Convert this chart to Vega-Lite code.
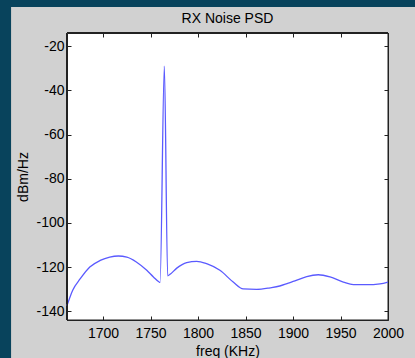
{
  "$schema": "https://vega.github.io/schema/vega-lite/v6.json",
  "width": 321,
  "height": 287,
  "autosize": {"type": "none"},
  "padding": {"left": 67, "top": 33, "right": 27, "bottom": 38},
  "background": "#08435c",
  "title": {"text": "RX Noise PSD", "frame": "group", "anchor": "middle", "fontSize": 14, "fontWeight": "normal", "color": "#000000", "font": "Liberation Sans", "offset": -19},
  "config": {
    "view": {"stroke": null},
    "font": "Liberation Sans",
    "axis": {
      "domainColor": "#222222",
      "tickColor": "#222222",
      "labelColor": "#000000",
      "titleColor": "#000000",
      "labelFont": "Liberation Sans",
      "titleFont": "Liberation Sans",
      "labelFontSize": 14,
      "titleFontSize": 14,
      "titleFontWeight": "normal",
      "grid": false,
      "tickSize": -4,
      "labelFlush": false,
      "labelOverlap": false
    }
  },
  "data": {"values": [
    {"freq": 1662, "psd": -137.5},
    {"freq": 1668, "psd": -130.5},
    {"freq": 1676, "psd": -125.3},
    {"freq": 1686, "psd": -120},
    {"freq": 1697, "psd": -117},
    {"freq": 1707, "psd": -115.5},
    {"freq": 1716, "psd": -115},
    {"freq": 1725, "psd": -115.5},
    {"freq": 1735, "psd": -117.7},
    {"freq": 1746, "psd": -121.5},
    {"freq": 1753, "psd": -124.5},
    {"freq": 1759, "psd": -126.8},
    {"freq": 1760, "psd": -127},
    {"freq": 1764.5, "psd": -29},
    {"freq": 1768, "psd": -124},
    {"freq": 1770.5, "psd": -123.3},
    {"freq": 1777.6, "psd": -120.5},
    {"freq": 1788, "psd": -118},
    {"freq": 1798.6, "psd": -117.4},
    {"freq": 1809, "psd": -118.5},
    {"freq": 1823, "psd": -121.5},
    {"freq": 1837, "psd": -126.8},
    {"freq": 1847.5, "psd": -129.9},
    {"freq": 1861.6, "psd": -130.1},
    {"freq": 1875.8, "psd": -129.4},
    {"freq": 1886, "psd": -128.6},
    {"freq": 1895, "psd": -127.3},
    {"freq": 1902, "psd": -126.3},
    {"freq": 1914.4, "psd": -124.3},
    {"freq": 1926.6, "psd": -123.5},
    {"freq": 1939, "psd": -124.5},
    {"freq": 1953, "psd": -126.8},
    {"freq": 1963.5, "psd": -128},
    {"freq": 1977.6, "psd": -128},
    {"freq": 1991.6, "psd": -127.6},
    {"freq": 2000, "psd": -126.8}
  ]},
  "layer": [
    {
      "mark": {"type": "rect", "fill": "#d1d1d1", "clip": false},
      "encoding": {
        "x": {"datum": 1604, "type": "quantitative", "scale": {"domain": [1662, 2000], "nice": false, "zero": false}, "axis": null},
        "x2": {"datum": 2060},
        "y": {"datum": -2.2, "type": "quantitative", "scale": {"domain": [-144, -14], "nice": false, "zero": false}, "axis": null},
        "y2": {"datum": -180}
      }
    },
    {
      "mark": {"type": "rect", "fill": "#ffffff", "stroke": "#222222", "strokeWidth": 1},
      "encoding": {
        "x": {"datum": 1662, "type": "quantitative", "scale": {"domain": [1662, 2000], "nice": false, "zero": false},
              "axis": {"orient": "bottom", "zindex": 2, "title": "freq (KHz)", "values": [1700, 1750, 1800, 1850, 1900, 1950, 2000], "labelExpr": "'' + datum.value", "labelPadding": 10, "titlePadding": 4}},
        "x2": {"datum": 2000},
        "y": {"datum": -144, "type": "quantitative", "scale": {"domain": [-144, -14], "nice": false, "zero": false},
              "axis": {"orient": "left", "zindex": 2, "title": "dBm/Hz", "values": [-140, -120, -100, -80, -60, -40, -20], "labelExpr": "'' + datum.value", "labelPadding": 7, "titlePadding": 5}},
        "y2": {"datum": -14}
      }
    },
    {
      "mark": {"type": "line", "stroke": "#5a5aff", "strokeWidth": 1.3, "interpolate": "monotone"},
      "encoding": {
        "x": {"field": "freq", "type": "quantitative", "scale": {"domain": [1662, 2000], "nice": false, "zero": false},
              "axis": {"orient": "top", "zindex": 2, "title": null, "labels": false, "values": [1700, 1750, 1800, 1850, 1900, 1950, 2000]}},
        "y": {"field": "psd", "type": "quantitative", "scale": {"domain": [-144, -14], "nice": false, "zero": false},
              "axis": {"orient": "right", "zindex": 2, "title": null, "labels": false, "values": [-140, -120, -100, -80, -60, -40, -20]}}
      }
    }
  ],
  "resolve": {"axis": {"x": "independent", "y": "independent"}}
}
